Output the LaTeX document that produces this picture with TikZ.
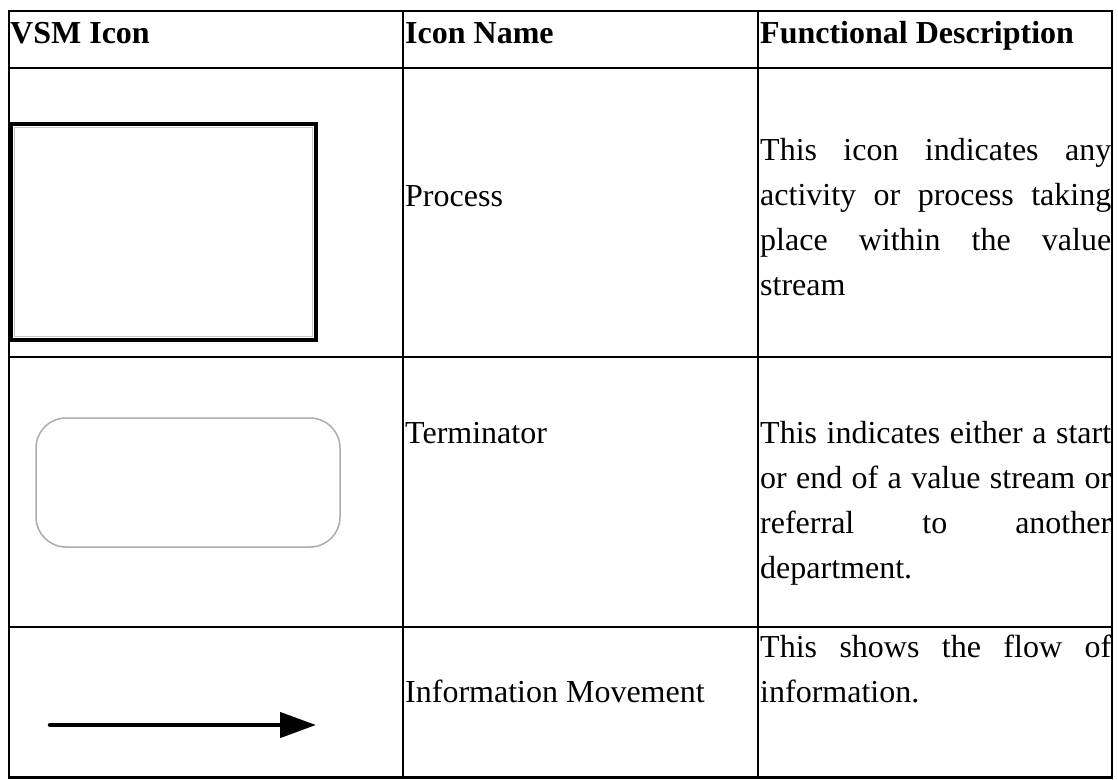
\documentclass[tikz,border=0pt]{standalone}
\usepackage{fontspec}
\setmainfont{Liberation Serif}
\usetikzlibrary{arrows.meta}
\newcommand{\jl}[1]{\makebox[351pt][s]{\spaceskip=0.25em plus 1fil minus 0.08em\relax #1}}
\begin{document}
\begin{tikzpicture}[x=1pt,y=-1pt,
    rule/.style={line width=2.2pt},
    head/.style={anchor=base west, inner sep=0pt, font=\fontsize{32}{45}\selectfont\bfseries},
    body/.style={anchor=base west, inner sep=0pt, font=\fontsize{32}{45}\selectfont},
    desc/.style={body, text width=351pt, align=left}]
    \useasboundingbox (0,0) rectangle (1118,779);
    % table frame
    \draw[rule] (9,11) rectangle (1112,777.5);
    \foreach \y in {68,357,627} \draw[rule] (9,\y)--(1112,\y);
    \foreach \x in {403,758} \draw[rule] (\x,11)--(\x,777.5);
    % header
    \node[head] (hicon) at (10,43) {VSM Icon};
    \node[head] (hname) at (405,43) {Icon Name};
    \node[head] (hdesc) at (760,43) {Functional Description};
    % process
    \draw[line width=4pt] (11,124) rectangle (316,340);
    \draw[gray!45,line width=1.5pt] (14.5,127.5) rectangle (312.5,336.5);
    \node[body] (nproc) at (405,206) {Process};
    \node[desc] (dproc) at (760,160) {\jl{This icon indicates any}\\\jl{activity or process taking}\\\jl{place within the value}\\stream};
    % terminator
    \draw[gray!65,line width=1.5pt,rounded corners=30pt] (36,418) rectangle (340,547);
    \node[body] (nterm) at (405,443) {Terminator};
    \node[desc] (dterm) at (760,443) {\jl{This indicates either a start}\\\jl{or end of a value stream or}\\\jl{referral to another}\\department.};
    % information movement
    \coordinate (infoA) at (50,725);
    \coordinate (infoB) at (316,725);
    \draw[line width=4.5pt,line cap=round,-{Triangle[length=36pt,width=25pt]}] (infoA)--(infoB);
    \node[body] (ninfo) at (405,702) {Information Movement};
    \node[desc] (dinfo) at (760,657) {\jl{This shows the flow of}\\information.};
\end{tikzpicture}
\end{document}
